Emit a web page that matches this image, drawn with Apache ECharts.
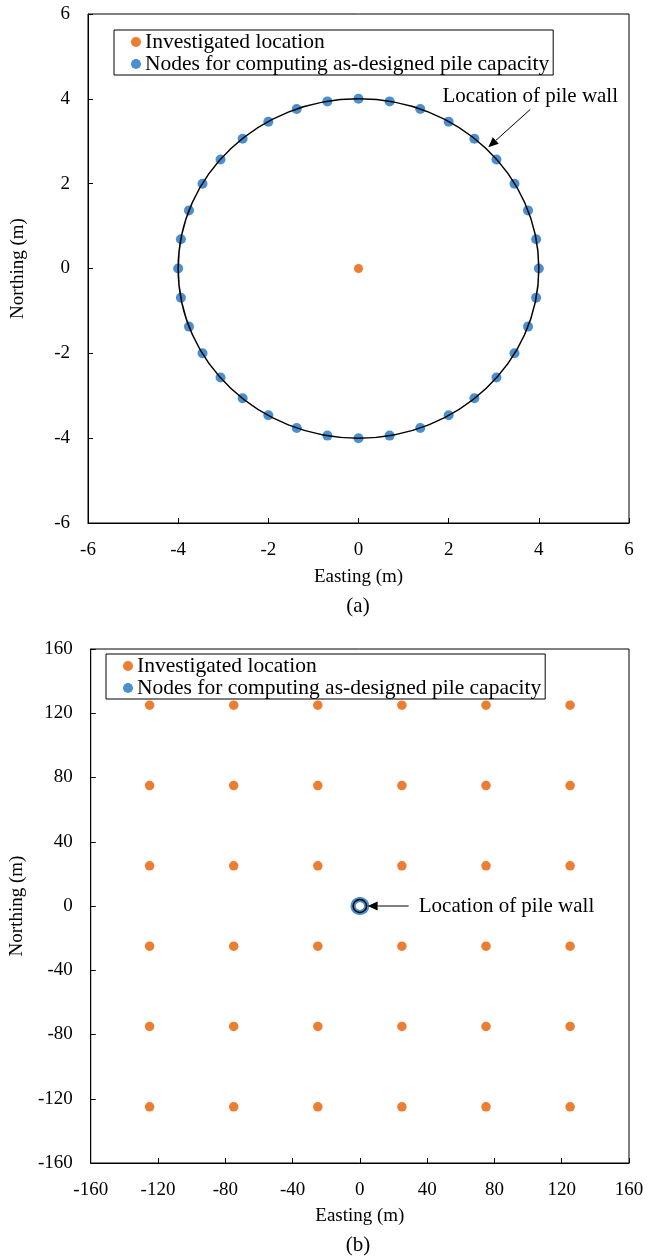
<!DOCTYPE html>
<html><head><meta charset="utf-8">
<script src="https://cdn.jsdelivr.net/npm/echarts@6/dist/echarts.min.js"></script>
<style>html,body{margin:0;padding:0;background:#fff}#chart{width:648px;height:1259px}</style>
</head><body><div id="chart"></div>
<script>
// Nodes on the pile wall (10 degree spacing, radius 4 m)
const nodeEasting = [0, 0.69, 1.37, 2.00, 2.57, 3.06, 3.46, 3.76, 3.94, 4.00, 3.94, 3.76, 3.46, 3.06, 2.57, 2.00, 1.37, 0.69,
  0, -0.69, -1.37, -2.00, -2.57, -3.06, -3.46, -3.76, -3.94, -4.00, -3.94, -3.76, -3.46, -3.06, -2.57, -2.00, -1.37, -0.69];
const nodeNorthing = [4.00, 3.94, 3.76, 3.46, 3.06, 2.57, 2.00, 1.37, 0.69, 0, -0.69, -1.37, -2.00, -2.57, -3.06, -3.46, -3.76, -3.94,
  -4.00, -3.94, -3.76, -3.46, -3.06, -2.57, -2.00, -1.37, -0.69, 0, 0.69, 1.37, 2.00, 2.57, 3.06, 3.46, 3.76, 3.94];
// Pile wall: centre easting, northing, radius (m)
const pileWall = [0, 0, 4];
// Panel (a): single investigated location
const investigatedEastingA = [0];
const investigatedNorthingA = [0];
// Panel (b): grid of investigated locations
const gridEasting = [-125, -75, -25, 25, 75, 125];
const gridNorthing = [125, 75, 25, -25, -75, -125];
// Axis ranges
const axisA = { min: -6, max: 6, interval: 2 };
const axisB = { min: -160, max: 160, interval: 40 };
// Annotation anchors (data coordinates)
const arrowA = { from: [3.81, 3.75], to: [2.88, 2.86], text: [3.81, 4.06] };
const arrowB = { from: [29, 0], to: [4.6, 0], text: [35, 0] };

const NAME_INV = 'Investigated location';
const NAME_NODES = 'Nodes for computing as-designed pile capacity';
const ORANGE = '#ED7D31';
const BLUE = '#4A90D0';
const FONT = "'Liberation Serif', 'Times New Roman', serif";

const nodes = nodeEasting.map((e, i) => [e, nodeNorthing[i]]);
const invA = investigatedEastingA.map((e, i) => [e, investigatedNorthingA[i]]);
const invB = [];
gridNorthing.forEach(n => gridEasting.forEach(e => invB.push([e, n])));

function axis(range, gridIndex, name, isY, labelMargin, nameGap) {
  return {
    type: 'value', gridIndex, min: range.min, max: range.max, interval: range.interval,
    name, nameLocation: 'middle', nameGap,
    nameTextStyle: { fontFamily: FONT, fontSize: 19, color: '#000' },
    axisLine: { show: true, onZero: false, lineStyle: { color: '#000', width: 1 } },
    axisTick: { show: true, inside: true, length: 5, lineStyle: { color: '#000' } },
    axisLabel: { fontFamily: FONT, fontSize: 19, color: '#000', margin: labelMargin },
    splitLine: { show: false }
  };
}

function wallSeries(idx) {
  return {
    type: 'custom', xAxisIndex: idx, yAxisIndex: idx, z: 5, silent: true,
    data: [pileWall],
    renderItem(params, api) {
      const c = api.coord([api.value(0), api.value(1)]);
      const s = api.size([api.value(2), api.value(2)]);
      return {
        type: 'ellipse',
        shape: { cx: c[0], cy: c[1], rx: s[0], ry: s[1] },
        style: { fill: null, stroke: '#000', lineWidth: 1.5 }
      };
    }
  };
}

function legend(left, top, lineH) {
  return {
    left, top, orient: 'vertical', selectedMode: false,
    data: [NAME_INV, NAME_NODES],
    icon: 'circle', itemWidth: 10, itemHeight: 10, itemGap: 0,
    borderColor: '#000', borderWidth: 1, borderRadius: 0,
    padding: [1, 4, 0, 17],
    textStyle: { fontFamily: FONT, fontSize: 21.5, color: '#000', lineHeight: lineH, padding: [0, 0, 0, -1] }
  };
}

const chart = echarts.init(document.getElementById('chart'), null, { renderer: 'canvas' });
chart.setOption({
  animation: false,
  backgroundColor: '#fff',
  grid: [
    { left: 88, top: 14, width: 541, height: 509, show: true, borderColor: '#000', borderWidth: 1 },
    { left: 90, top: 649, width: 539, height: 514, show: true, borderColor: '#000', borderWidth: 1 }
  ],
  xAxis: [axis(axisA, 0, 'Easting (m)', false, 18, 45), axis(axisB, 1, 'Easting (m)', false, 18, 44)],
  yAxis: [axis(axisA, 0, 'Northing (m)', true, 18, 60), axis(axisB, 1, 'Northing (m)', true, 18, 60)],
  legend: [legend(114, 30, 21), legend(106, 654, 22)],
  series: [
    { name: NAME_INV, type: 'scatter', xAxisIndex: 0, yAxisIndex: 0, data: invA, symbolSize: 9, itemStyle: { color: ORANGE, opacity: 1 } },
    { name: NAME_NODES, type: 'scatter', xAxisIndex: 0, yAxisIndex: 0, data: nodes, symbolSize: 10, itemStyle: { color: BLUE, opacity: 1 } },
    wallSeries(0),
    { name: NAME_INV, type: 'scatter', xAxisIndex: 1, yAxisIndex: 1, data: invB, symbolSize: 9.5, itemStyle: { color: ORANGE, opacity: 1 } },
    { name: NAME_NODES, type: 'scatter', xAxisIndex: 1, yAxisIndex: 1, data: nodes, symbolSize: 5, itemStyle: { color: BLUE, opacity: 1 } },
    wallSeries(1)
  ]
});

// Annotations: arrows and captions placed from data coordinates
function arrow(gridIndex, a) {
  const p0 = chart.convertToPixel({ gridIndex }, a.from);
  const p1 = chart.convertToPixel({ gridIndex }, a.to);
  const dx = p1[0] - p0[0], dy = p1[1] - p0[1];
  const len = Math.hypot(dx, dy), ux = dx / len, uy = dy / len;
  const hl = 10, hw = 4.5;
  const bx = p1[0] - ux * hl, by = p1[1] - uy * hl;
  return [
    { type: 'line', shape: { x1: p0[0], y1: p0[1], x2: bx, y2: by }, style: { stroke: '#000', lineWidth: 1 }, z: 100 },
    { type: 'polygon', shape: { points: [[p1[0], p1[1]], [bx - uy * hw, by + ux * hw], [bx + uy * hw, by - ux * hw]] }, style: { fill: '#000' }, z: 100 }
  ];
}
const tA = chart.convertToPixel({ gridIndex: 0 }, arrowA.text);
const tB = chart.convertToPixel({ gridIndex: 1 }, arrowB.text);
const textStyle = { fill: '#000', fontFamily: FONT, fontSize: 21 };
chart.setOption({
  graphic: [
    ...arrow(0, arrowA), ...arrow(1, arrowB),
    { type: 'text', x: tA[0], y: tA[1], z: 100, style: Object.assign({ text: 'Location of pile wall', align: 'center', verticalAlign: 'middle' }, textStyle) },
    { type: 'text', x: tB[0], y: tB[1], z: 100, style: Object.assign({ text: 'Location of pile wall', align: 'left', verticalAlign: 'middle' }, textStyle) },
    { type: 'text', x: 358, y: 606, z: 100, style: Object.assign({ text: '(a)', align: 'center', verticalAlign: 'middle' }, textStyle) },
    { type: 'text', x: 358, y: 1245, z: 100, style: Object.assign({ text: '(b)', align: 'center', verticalAlign: 'middle' }, textStyle) }
  ]
});
</script>
</body></html>
